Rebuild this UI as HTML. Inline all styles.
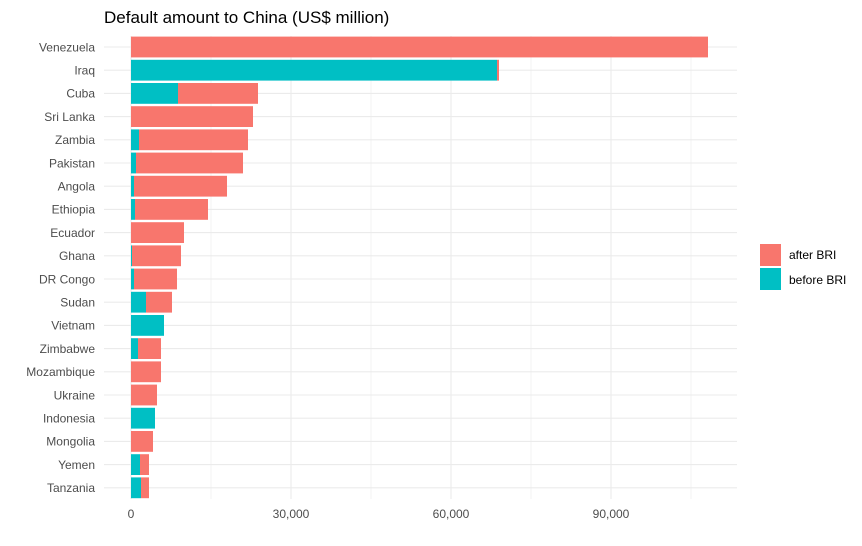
<!DOCTYPE html>
<html><head><meta charset="utf-8"><style>
body{margin:0;background:#fff}
svg{display:block;font-family:"Liberation Sans",sans-serif}
</style></head><body>
<svg width="862" height="546" xmlns="http://www.w3.org/2000/svg">
<rect width="862" height="546" fill="#fff"/>
<text x="104" y="23" font-size="17" fill="#000">Default amount to China (US$ million)</text>
<g stroke="#ebebeb" stroke-width="0.6">
<line x1="211" y1="36" x2="211" y2="499"/><line x1="371" y1="36" x2="371" y2="499"/><line x1="531" y1="36" x2="531" y2="499"/><line x1="691" y1="36" x2="691" y2="499"/>
</g>
<g stroke="#ebebeb" stroke-width="1.1">
<line x1="131" y1="36" x2="131" y2="499"/><line x1="291" y1="36" x2="291" y2="499"/><line x1="451" y1="36" x2="451" y2="499"/><line x1="611" y1="36" x2="611" y2="499"/>
<line x1="104" x2="737" y1="47" y2="47"/><line x1="104" x2="737" y1="70.2" y2="70.2"/><line x1="104" x2="737" y1="93.4" y2="93.4"/><line x1="104" x2="737" y1="116.6" y2="116.6"/><line x1="104" x2="737" y1="139.8" y2="139.8"/><line x1="104" x2="737" y1="163" y2="163"/><line x1="104" x2="737" y1="186.2" y2="186.2"/><line x1="104" x2="737" y1="209.4" y2="209.4"/><line x1="104" x2="737" y1="232.6" y2="232.6"/><line x1="104" x2="737" y1="255.8" y2="255.8"/><line x1="104" x2="737" y1="279" y2="279"/><line x1="104" x2="737" y1="302.2" y2="302.2"/><line x1="104" x2="737" y1="325.4" y2="325.4"/><line x1="104" x2="737" y1="348.6" y2="348.6"/><line x1="104" x2="737" y1="371.8" y2="371.8"/><line x1="104" x2="737" y1="395" y2="395"/><line x1="104" x2="737" y1="418.2" y2="418.2"/><line x1="104" x2="737" y1="441.4" y2="441.4"/><line x1="104" x2="737" y1="464.6" y2="464.6"/><line x1="104" x2="737" y1="487.8" y2="487.8"/>
</g>
<g fill="#F8766D">
<rect x="131" y="36.6" width="577" height="20.8"/>
<rect x="497" y="59.8" width="2" height="20.8"/>
<rect x="178" y="83" width="80" height="20.8"/>
<rect x="131" y="106.2" width="122" height="20.8"/>
<rect x="139" y="129.4" width="109" height="20.8"/>
<rect x="136" y="152.6" width="107" height="20.8"/>
<rect x="134" y="175.8" width="93" height="20.8"/>
<rect x="135" y="199" width="73" height="20.8"/>
<rect x="131" y="222.2" width="53" height="20.8"/>
<rect x="132" y="245.4" width="49" height="20.8"/>
<rect x="134" y="268.6" width="43" height="20.8"/>
<rect x="146" y="291.8" width="26" height="20.8"/>
<rect x="138" y="338.2" width="23" height="20.8"/>
<rect x="131" y="361.4" width="30" height="20.8"/>
<rect x="131" y="384.6" width="26" height="20.8"/>
<rect x="131" y="431" width="22" height="20.8"/>
<rect x="140" y="454.2" width="9" height="20.8"/>
<rect x="141" y="477.4" width="8" height="20.8"/>
</g>
<g fill="#00BFC4">
<rect x="131" y="59.8" width="366" height="20.8"/>
<rect x="131" y="83" width="47" height="20.8"/>
<rect x="131" y="129.4" width="8" height="20.8"/>
<rect x="131" y="152.6" width="5" height="20.8"/>
<rect x="131" y="175.8" width="3" height="20.8"/>
<rect x="131" y="199" width="4" height="20.8"/>
<rect x="131" y="245.4" width="1" height="20.8"/>
<rect x="131" y="268.6" width="3" height="20.8"/>
<rect x="131" y="291.8" width="15" height="20.8"/>
<rect x="131" y="315" width="33" height="20.8"/>
<rect x="131" y="338.2" width="7" height="20.8"/>
<rect x="131" y="407.8" width="24" height="20.8"/>
<rect x="131" y="454.2" width="9" height="20.8"/>
<rect x="131" y="477.4" width="10" height="20.8"/>
</g>
<g font-size="12" fill="#4d4d4d" text-anchor="end">
<text x="95" y="51.3">Venezuela</text><text x="95" y="74.5">Iraq</text><text x="95" y="97.7">Cuba</text><text x="95" y="120.9">Sri Lanka</text><text x="95" y="144.1">Zambia</text><text x="95" y="167.3">Pakistan</text><text x="95" y="190.5">Angola</text><text x="95" y="213.7">Ethiopia</text><text x="95" y="236.9">Ecuador</text><text x="95" y="260.1">Ghana</text><text x="95" y="283.3">DR Congo</text><text x="95" y="306.5">Sudan</text><text x="95" y="329.7">Vietnam</text><text x="95" y="352.9">Zimbabwe</text><text x="95" y="376.1">Mozambique</text><text x="95" y="399.3">Ukraine</text><text x="95" y="422.5">Indonesia</text><text x="95" y="445.7">Mongolia</text><text x="95" y="468.9">Yemen</text><text x="95" y="492.1">Tanzania</text>
</g>
<g font-size="12" fill="#4d4d4d" text-anchor="middle">
<text x="131" y="518">0</text><text x="291" y="518">30,000</text><text x="451" y="518">60,000</text><text x="611" y="518">90,000</text>
</g>
<rect x="760" y="244" width="21" height="22" fill="#F8766D"/>
<rect x="760" y="268" width="21" height="22" fill="#00BFC4"/>
<text x="789" y="259" font-size="12" fill="#000">after BRI</text>
<text x="789" y="284" font-size="12" fill="#000">before BRI</text>
</svg>
</body></html>
